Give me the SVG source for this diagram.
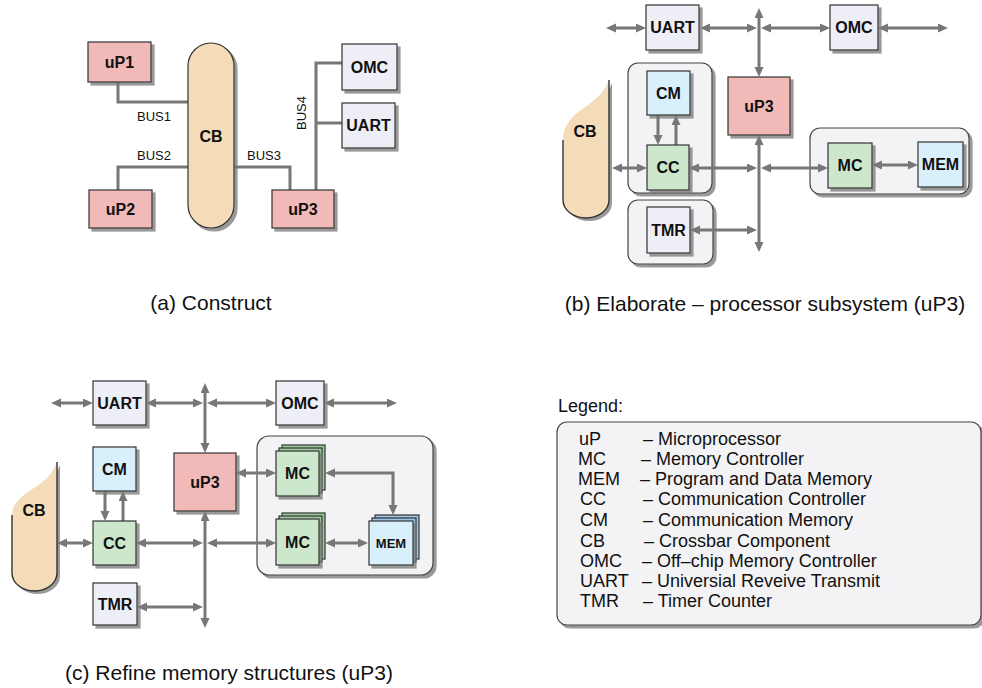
<svg xmlns="http://www.w3.org/2000/svg" width="982" height="688" viewBox="0 0 982 688">
  <style>
    text { font-family: "Liberation Sans", Arial, sans-serif; fill: #111; }
    .lbl { font-size: 16px; font-weight: bold; text-anchor: middle; }
    .lbl-s { font-size: 13px; font-weight: bold; text-anchor: middle; }
    .bus { font-size: 13px; }
    .cap { font-size: 21px; text-anchor: middle; }
    .leg { font-size: 18px; }
    .box { stroke: #333; stroke-width: 1.2; filter: url(#sh); }
    .up { fill: #f2b9b9; }
    .per { fill: #eeeef6; }
    .mem { fill: #d8f0fc; }
    .ctl { fill: #cde7cd; }
    .ctl-b { fill: #9fcb9f; stroke: #333; stroke-width: 1.2; }
    .mem-b { fill: #9cc4e6; stroke: #333; stroke-width: 1.2; }
    .grp { fill: #f3f3f5; stroke: #444; stroke-width: 1.2; filter: url(#sh); }
    .cb { fill: #f4dcb8; }
    .cb-edge { fill: none; stroke: #333; stroke-width: 1.4; }
    .wire { fill: none; stroke: #777; stroke-width: 3; }
    .arr { fill: none; stroke: #777; stroke-width: 3; marker-end: url(#ah); }
    .arr2 { fill: none; stroke: #777; stroke-width: 3; marker-start: url(#ah); marker-end: url(#ah); }
  </style>
  <defs>
    <filter id="sh" x="-10%" y="-10%" width="130%" height="130%">
      <feDropShadow dx="3" dy="3" stdDeviation="0.7" flood-color="#777" flood-opacity="0.75"/>
    </filter>
    <marker id="ah" markerUnits="userSpaceOnUse" markerWidth="10" markerHeight="10" refX="6" refY="4.5" orient="auto-start-reverse">
      <path d="M0,0 L10,4.5 L0,9 Z" fill="#777"/>
    </marker>
  </defs>

  <rect width="982" height="688" fill="#fff"/>

  <!-- ===== (a) Construct ===== -->
  <g id="a-connectors">
    <path class="wire" d="M118,82 V102 H188"/>
    <path class="wire" d="M118,190 V167 H188"/>
    <path class="wire" d="M234,167 H290 V190"/>
    <path class="wire" d="M316,190 V63 H342"/>
    <path class="wire" d="M316,123 H342"/>
    <text class="bus" x="137" y="121">BUS1</text>
    <text class="bus" x="137" y="160">BUS2</text>
    <text class="bus" x="247" y="160">BUS3</text>
    <text class="bus" text-anchor="middle" transform="translate(306,113) rotate(-90)">BUS4</text>
  </g>
  <g id="a-uP1"><rect class="box up" x="88" y="42" width="63" height="40"/><text class="lbl" x="119.5" y="67.5">uP1</text></g>
  <g id="a-uP2"><rect class="box up" x="89" y="190" width="63" height="38"/><text class="lbl" x="120.5" y="214.5">uP2</text></g>
  <g id="a-uP3"><rect class="box up" x="272" y="190" width="62" height="38"/><text class="lbl" x="303" y="214.5">uP3</text></g>
  <g id="a-CB"><rect class="box cb" x="188" y="43" width="46" height="185" rx="23"/><text class="lbl" x="211" y="142">CB</text></g>
  <g id="a-OMC"><rect class="box per" x="342" y="44" width="55" height="46"/><text class="lbl" x="369.5" y="72.5">OMC</text></g>
  <g id="a-UART"><rect class="box per" x="342" y="103" width="53" height="45"/><text class="lbl" x="368.5" y="131">UART</text></g>
  <text class="cap" x="211" y="310">(a) Construct</text>

  <!-- ===== (b) Elaborate ===== -->
  <g id="b-groups">
    <rect class="grp" x="628" y="63" width="84" height="130" rx="10"/>
    <rect class="grp" x="628" y="200" width="85" height="64" rx="10"/>
    <rect class="grp" x="810" y="128" width="159" height="66" rx="10"/>
  </g>
  <g id="b-connectors">
    <line class="arr2" x1="610" y1="28" x2="642" y2="28"/>
    <line class="arr2" x1="704" y1="28" x2="753" y2="28"/>
    <line class="arr2" x1="765" y1="28" x2="826" y2="28"/>
    <line class="arr2" x1="882" y1="28" x2="944" y2="28"/>
    <line class="arr2" x1="759" y1="12" x2="759" y2="73"/>
    <line class="arr2" x1="759" y1="139" x2="759" y2="248"/>
    <line class="arr" x1="658" y1="115" x2="658" y2="141"/>
    <line class="arr" x1="676" y1="145" x2="676" y2="119"/>
    <line class="arr2" x1="616" y1="168" x2="643" y2="168"/>
    <line class="arr2" x1="693" y1="168" x2="753" y2="168"/>
    <line class="arr2" x1="765" y1="168" x2="824" y2="168"/>
    <line class="arr2" x1="876" y1="165" x2="914" y2="165"/>
    <line class="arr2" x1="694" y1="230" x2="753" y2="230"/>
  </g>
  <g id="b-CB">
    <path class="cb" filter="url(#sh)" d="M609,80 C602,98 588,104 576,114 C567,122 563,130 563,140 V200 A23,18 0 0 0 609,200 Z"/>
    <path class="cb-edge" d="M563,140 V200 A23,18 0 0 0 609,200 V80"/>
    <text class="lbl" x="585" y="137">CB</text>
  </g>
  <g id="b-UART"><rect class="box per" x="646" y="5" width="53" height="45"/><text class="lbl" x="672.5" y="33">UART</text></g>
  <g id="b-OMC"><rect class="box per" x="830" y="5" width="48" height="45"/><text class="lbl" x="854" y="33">OMC</text></g>
  <g id="b-uP3"><rect class="box up" x="728" y="77" width="62" height="58"/><text class="lbl" x="759" y="111.5">uP3</text></g>
  <g id="b-CM"><rect class="box mem" x="647" y="71" width="43" height="44"/><text class="lbl" x="668.5" y="98.5">CM</text></g>
  <g id="b-CC"><rect class="box ctl" x="647" y="145" width="42" height="45"/><text class="lbl" x="668" y="173">CC</text></g>
  <g id="b-TMR"><rect class="box per" x="647" y="207" width="43" height="46"/><text class="lbl" x="668.5" y="235.5">TMR</text></g>
  <g id="b-MC"><rect class="box ctl" x="828" y="143" width="44" height="45"/><text class="lbl" x="850" y="171">MC</text></g>
  <g id="b-MEM"><rect class="box mem" x="918" y="142" width="45" height="45"/><text class="lbl" x="940.5" y="170">MEM</text></g>
  <text class="cap" x="765" y="311">(b) Elaborate – processor subsystem (uP3)</text>

  <!-- ===== (c) Refine memory structures ===== -->
  <g id="c-group"><rect class="grp" x="257" y="436" width="176" height="139" rx="12"/></g>
  <g id="c-connectors">
    <line class="arr2" x1="55" y1="403" x2="89" y2="403"/>
    <line class="arr2" x1="150" y1="403" x2="199" y2="403"/>
    <line class="arr2" x1="211" y1="403" x2="272" y2="403"/>
    <line class="arr2" x1="328" y1="403" x2="393" y2="403"/>
    <line class="arr2" x1="205" y1="387" x2="205" y2="449"/>
    <line class="arr2" x1="205" y1="515" x2="205" y2="624"/>
    <line class="arr" x1="105" y1="491" x2="105" y2="517"/>
    <line class="arr" x1="123" y1="521" x2="123" y2="495"/>
    <line class="arr2" x1="61" y1="543" x2="89" y2="543"/>
    <line class="arr2" x1="140" y1="543" x2="199" y2="543"/>
    <line class="arr2" x1="211" y1="543" x2="272" y2="543"/>
    <line class="arr2" x1="141" y1="607" x2="199" y2="607"/>
    <line class="arr2" x1="240" y1="473" x2="272" y2="473"/>
    <line class="arr2" x1="329" y1="543" x2="364" y2="543"/>
    <path class="arr2" d="M329,473 H393 V511"/>
  </g>
  <g id="c-CB">
    <path class="cb" filter="url(#sh)" d="M57,462 C51,478 40,484 28,492 C17,500 12,506 12,515 V573 A22.5,18 0 0 0 57,573 Z"/>
    <path class="cb-edge" d="M12,515 V573 A22.5,18 0 0 0 57,573 V462"/>
    <text class="lbl" x="34" y="516">CB</text>
  </g>
  <g id="c-UART"><rect class="box per" x="93" y="381" width="53" height="44"/><text class="lbl" x="119.5" y="408.5">UART</text></g>
  <g id="c-OMC"><rect class="box per" x="276" y="381" width="48" height="44"/><text class="lbl" x="300" y="408.5">OMC</text></g>
  <g id="c-uP3"><rect class="box up" x="174" y="453" width="62" height="58"/><text class="lbl" x="205" y="487.5">uP3</text></g>
  <g id="c-CM"><rect class="box mem" x="93" y="447" width="43" height="44"/><text class="lbl" x="114.5" y="474.5">CM</text></g>
  <g id="c-CC"><rect class="box ctl" x="93" y="521" width="43" height="44"/><text class="lbl" x="114.5" y="548.5">CC</text></g>
  <g id="c-TMR"><rect class="box per" x="93" y="583" width="44" height="42"/><text class="lbl" x="115" y="609.5">TMR</text></g>
  <g id="c-MC1">
    <rect class="ctl-b" x="282" y="445" width="43" height="45"/>
    <rect class="ctl-b" x="279" y="448" width="43" height="45"/>
    <rect class="box ctl" x="276" y="451" width="43" height="45"/>
    <text class="lbl" x="297.5" y="479">MC</text>
  </g>
  <g id="c-MC2">
    <rect class="ctl-b" x="282" y="513" width="43" height="46"/>
    <rect class="ctl-b" x="279" y="516" width="43" height="46"/>
    <rect class="box ctl" x="276" y="519" width="43" height="46"/>
    <text class="lbl" x="297.5" y="547.5">MC</text>
  </g>
  <g id="c-MEM">
    <rect class="mem-b" x="375" y="515" width="44" height="44"/>
    <rect class="mem-b" x="372" y="518" width="44" height="44"/>
    <rect class="box mem" x="369" y="521" width="44" height="44"/>
    <text class="lbl-s" x="391" y="547.5">MEM</text>
  </g>
  <text class="cap" x="229" y="680">(c) Refine memory structures (uP3)</text>

  <!-- ===== Legend ===== -->
  <g id="legend">
    <text class="leg" x="558" y="412">Legend:</text>
    <rect class="grp" x="557" y="422" width="424" height="203" rx="10"/>
    <text class="leg" x="579" y="445">uP</text><text class="leg" x="643" y="445">– Microprocessor</text>
    <text class="leg" x="578" y="465">MC</text><text class="leg" x="641" y="465">– Memory Controller</text>
    <text class="leg" x="578" y="485">MEM</text><text class="leg" x="640" y="485">– Program and Data Memory</text>
    <text class="leg" x="580" y="505">CC</text><text class="leg" x="643" y="505">– Communication Controller</text>
    <text class="leg" x="580" y="526">CM</text><text class="leg" x="643" y="526">– Communication Memory</text>
    <text class="leg" x="580" y="547">CB</text><text class="leg" x="644" y="547">– Crossbar Component</text>
    <text class="leg" x="580" y="567">OMC</text><text class="leg" x="642" y="567">– Off–chip Memory Controller</text>
    <text class="leg" x="580" y="587">UART</text><text class="leg" x="642" y="587">– Universial Reveive Transmit</text>
    <text class="leg" x="580" y="607">TMR</text><text class="leg" x="643" y="607">– Timer Counter</text>
  </g>
</svg>
